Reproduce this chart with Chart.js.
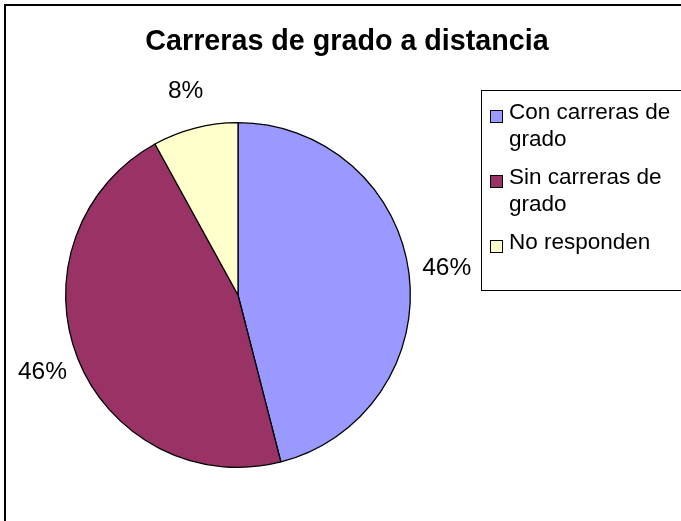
<!DOCTYPE html>
<html lang="es">
<head>
<meta charset="UTF-8">
<script src="https://cdn.jsdelivr.net/npm/chart.js@4.4.0/dist/chart.umd.min.js"></script>
<style>
  body { margin: 0; background: #fff; }
  canvas { display: block; }
</style>
</head>
<body>
<canvas id="myChart" width="681" height="521"></canvas>
<script>
// chart data
var titleText = 'Carreras de grado a distancia';
var categories = ['Con carreras de grado', 'Sin carreras de grado', 'No responden'];
var legendLines = [['Con carreras de', 'grado'], ['Sin carreras de', 'grado'], ['No responden']];
var values = [46, 46, 8];
var colors = ['#9999FF', '#993366', '#FFFFCC'];

var FONT = '"Liberation Sans", Arial, sans-serif';

// frame, title, legend and percent labels
var extras = {
  id: 'extras',
  afterDraw: function(chart) {
    var ctx = chart.ctx;
    ctx.save();

    // outer frame (only top/left visible)
    ctx.strokeStyle = '#000';
    ctx.lineWidth = 2;
    ctx.strokeRect(5, 5, 700, 540);

    // title
    ctx.fillStyle = '#000';
    ctx.font = 'bold 28.7px ' + FONT;
    ctx.textAlign = 'center';
    ctx.textBaseline = 'alphabetic';
    ctx.fillText(titleText, 347, 50);

    // percentage labels
    var meta = chart.getDatasetMeta(0);
    var total = values.reduce(function(a, b) { return a + b; }, 0);
    ctx.font = '24.5px ' + FONT;
    ctx.textBaseline = 'middle';
    meta.data.forEach(function(arc, i) {
      var p = arc.getProps(['x', 'y', 'startAngle', 'endAngle', 'outerRadius'], true);
      var mid = (p.startAngle + p.endAngle) / 2;
      var d = p.outerRadius + 38;
      var lx = p.x + Math.cos(mid) * d;
      var ly = p.y + Math.sin(mid) * d;
      ctx.fillText(Math.round(values[i] / total * 100) + '%', lx, ly);
    });

    // legend box
    ctx.lineWidth = 1;
    ctx.fillStyle = '#fff';
    ctx.fillRect(481.5, 90.5, 220, 200);
    ctx.strokeRect(481.5, 90.5, 220, 200);

    ctx.font = '22.5px ' + FONT;
    ctx.textAlign = 'left';
    ctx.textBaseline = 'alphabetic';
    legendLines.forEach(function(lines, i) {
      var base = 119 + i * 65;
      ctx.fillStyle = colors[i];
      ctx.fillRect(490.5, base - 8.5, 12, 12);
      ctx.strokeStyle = '#000';
      ctx.strokeRect(490.5, base - 8.5, 12, 12);
      ctx.fillStyle = '#000';
      lines.forEach(function(t, j) {
        ctx.fillText(t, 509, base + j * 27);
      });
    });

    ctx.restore();
  }
};

new Chart(document.getElementById('myChart'), {
  type: 'pie',
  data: {
    labels: categories,
    datasets: [{
      data: values,
      backgroundColor: colors,
      borderColor: '#000',
      borderWidth: 1.3
    }]
  },
  options: {
    responsive: false,
    animation: false,
    layout: { padding: { left: 65, right: 270, top: 122, bottom: 53 } },
    plugins: {
      legend: { display: false },
      title: { display: false },
      tooltip: { enabled: false }
    }
  },
  plugins: [extras]
});
</script>
</body>
</html>
